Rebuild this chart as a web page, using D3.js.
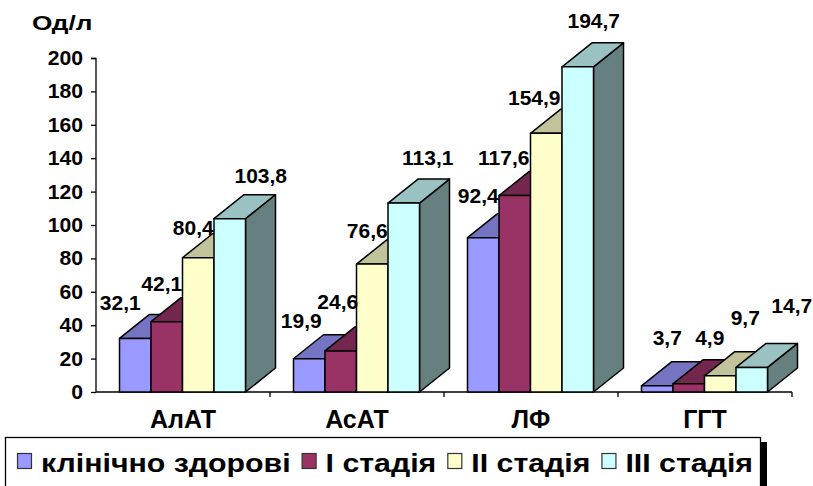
<!DOCTYPE html>
<html>
<head>
<meta charset="utf-8">
<script src="https://cdn.jsdelivr.net/npm/d3@7"></script>
<style>
  html, body { margin: 0; padding: 0; background: #fff; }
  svg { display: block; font-family: Arial, "Liberation Sans", sans-serif; font-weight: bold; }
</style>
</head>
<body>
<svg id="chart" width="813" height="486"></svg>
<script>
// Enzyme activity by disease stage, U/l
const categories = ["АлАТ", "АсАТ", "ЛФ", "ГГТ"];
const seriesNames = ["клінічно здорові", "I стадія", "II стадія", "III стадія"];
const healthy = [32.1, 19.9, 92.4, 3.7];
const stage1 = [42.1, 24.6, 117.6, 4.9];
const stage2 = [80.4, 76.6, 154.9, 9.7];
const stage3 = [103.8, 113.1, 194.7, 14.7];
const yTicks = [0, 20, 40, 60, 80, 100, 120, 140, 160, 180, 200];
const yTitle = "Од/л";

const seriesValues = [healthy, stage1, stage2, stage3];
const fills = ["#9999FF", "#993366", "#FFFFCC", "#CCFFFF"];

// oblique 3D depth of each bar
const depthX = 30, depthY = 24;

const svg = d3.select("#chart");

const y = d3.scaleLinear().domain([0, 200]).range([392, 58]);
const x = d3.scaleBand().domain(categories).range([96, 792]).paddingInner(0).paddingOuter(0);
const inner = d3.scaleBand().domain(d3.range(seriesNames.length))
  .range([23.5, 23.5 + 126]).paddingInner(0);

const shade = (c, k) => {
  const r = d3.rgb(c);
  return d3.rgb(r.r * k, r.g * k, r.b * k).formatHex();
};

// stretch a text element horizontally by factor k
const stretch = (t, k) => {
  const w = t.node().getComputedTextLength();
  t.attr("textLength", w * k).attr("lengthAdjust", "spacingAndGlyphs");
  return w * k;
};

// label nudges relative to (front centre, back top) of each bar
const labelNudge = [
  [[-15, -4], [-5, -7], [-5, 1], [31, -12]],
  [[-8, -7], [-3, -18], [-5, -2], [24, -14]],
  [[-5, -11], [-11, -7], [-12, -4], [16, -15]],
  [[10, -17], [21, -15], [25, -27], [40, -30]]
];

// y axis
const yAxis = d3.axisLeft(y).tickValues(yTicks).tickSize(5).tickPadding(8).tickFormat(d3.format("d"));
const gy = svg.append("g").attr("transform", "translate(96,0)").call(yAxis);
gy.select(".domain").attr("stroke", "#000").attr("stroke-width", 1.3).attr("d", "M-5,58.5H0V392");
gy.selectAll(".tick line").attr("stroke", "#000").attr("stroke-width", 1.3);
gy.selectAll(".tick text").attr("fill", "#000").attr("font-family", null)
  .style("font-size", "20px").style("font-weight", "bold")
  .each(function () { stretch(d3.select(this), 1.06); });

// x axis baseline with category separators
const xAxisG = svg.append("g");
xAxisG.append("line").attr("x1", 96).attr("x2", 792).attr("y1", 392).attr("y2", 392)
  .attr("stroke", "#000").attr("stroke-width", 1.3);
categories.forEach((c) => {
  const bx = x(c) + x.bandwidth();
  xAxisG.append("line").attr("x1", bx).attr("x2", bx).attr("y1", 392).attr("y2", 397)
    .attr("stroke", "#000").attr("stroke-width", 1.3);
});
xAxisG.selectAll("text.cat").data(categories).join("text").attr("class", "cat")
  .attr("x", d => x(d) + x.bandwidth() / 2).attr("y", 428)
  .attr("text-anchor", "middle").style("font-size", "25px").text(d => d);

// bars
const bars = svg.append("g");
categories.forEach((c, ci) => {
  seriesValues.forEach((vals, si) => {
    const v = vals[ci];
    const x0 = x(c) + inner(si), w = inner.bandwidth();
    const x1 = x0 + w, yt = y(v), yb = y(0);
    const g = bars.append("g").attr("stroke", "#000").attr("stroke-width", 1.5).attr("stroke-linejoin", "round");
    g.append("path").attr("fill", shade(fills[si], 0.5))
      .attr("d", `M${x1},${yb}L${x1 + depthX},${yb - depthY}L${x1 + depthX},${yt - depthY}L${x1},${yt}Z`);
    g.append("path").attr("fill", shade(fills[si], 0.76))
      .attr("d", `M${x0},${yt}L${x0 + depthX},${yt - depthY}L${x1 + depthX},${yt - depthY}L${x1},${yt}Z`);
    g.append("rect").attr("fill", fills[si]).attr("x", x0).attr("y", yt).attr("width", w).attr("height", yb - yt);
  });
});

// value labels
const labels = svg.append("g");
categories.forEach((c, ci) => {
  seriesValues.forEach((vals, si) => {
    const v = vals[ci];
    const cx = x(c) + inner(si) + inner.bandwidth() / 2;
    const ty = y(v) - depthY;
    const [dx, dy] = labelNudge[ci][si];
    labels.append("text").attr("x", cx + dx).attr("y", ty + dy).attr("text-anchor", "middle")
      .style("font-size", "21px").text(d3.format(".1f")(v).replace(".", ","));
  });
});

// axis title
const title = svg.append("text").attr("x", 32).attr("y", 30).style("font-size", "21px").text(yTitle);
stretch(title, 1.25);

// legend
const lg = svg.append("g");
lg.append("rect").attr("x", 761).attr("y", 442).attr("width", 6).attr("height", 50).attr("fill", "#000");
lg.append("rect").attr("x", 5.5).attr("y", 437.5).attr("width", 755).attr("height", 60)
  .attr("fill", "#fff").attr("stroke", "#000").attr("stroke-width", 1.3);
const legendStart = 17, legendEnd = 753, textOffset = 24, itemGap = 11;
const items = seriesNames.map((n, i) => {
  const t = lg.append("text").attr("y", 472).style("font-size", "25px").text(n);
  return { t, w: t.node().getComputedTextLength(), i };
});
const natural = d3.sum(items, d => d.w);
const k = (legendEnd - legendStart - items.length * textOffset - (items.length - 1) * itemGap) / natural;
let lx = legendStart;
items.forEach(({ t, w, i }) => {
  lg.append("rect").attr("x", lx + 0.5).attr("y", 453.5).attr("width", 14).attr("height", 15)
    .attr("fill", fills[i]).attr("stroke", "#333").attr("stroke-width", 1.2);
  t.attr("x", lx + textOffset).attr("textLength", w * k).attr("lengthAdjust", "spacingAndGlyphs");
  lx += textOffset + w * k + itemGap;
});
</script>
</body>
</html>
